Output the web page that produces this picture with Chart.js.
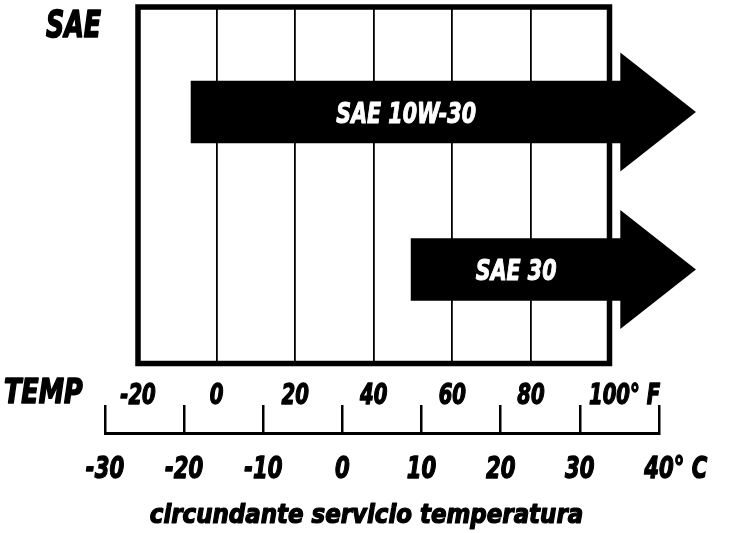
<!DOCTYPE html>
<html>
<head>
<meta charset="utf-8">
<script src="https://cdn.jsdelivr.net/npm/chart.js@4"></script>
<style>
  body { margin: 0; background: #fff; }
  #wrap { position: relative; width: 733px; height: 533px; }
  canvas { position: absolute; left: 0; top: 0; }
</style>
</head>
<body>
<div id="wrap">
  <canvas id="grades" width="733" height="533"></canvas>
  <canvas id="scaleC" width="733" height="533"></canvas>
</div>
<script>
// oil grades and the ambient range (°F) each one covers
const gradeNames = ['SAE 10W-30', 'SAE 30'];
const gradeFromF = [-6.5, 49.5];
const gradeShaftEndF = [103, 103];
const gradeTipF = [122, 122];

const fahrenheitTicks = [-20, 0, 20, 40, 60, 80, 100];
const celsiusTicks = [-30, -20, -10, 0, 10, 20, 30, 40];

const FAMILY = "'DejaVu Sans Condensed', 'DejaVu Sans', sans-serif";

// heavy oblique text, squeezed sideways to look like a condensed black face
function squash(ctx, text, x, y, o) {
  ctx.save();
  ctx.font = 'italic bold ' + o.size + 'px ' + FAMILY;
  ctx.fillStyle = o.color || '#000';
  ctx.textAlign = 'left';
  ctx.textBaseline = 'alphabetic';
  const lead = o.lead !== undefined ? o.lead : text;
  const w = ctx.measureText(lead).width * o.sx;
  const left = o.align === 'center' ? x - w / 2 : x;
  ctx.translate(left, y);
  ctx.scale(o.sx, 1);
  ctx.fillText(text, 0, 0);
  if (o.stroke) {
    ctx.lineWidth = o.stroke;
    ctx.lineJoin = 'round';
    ctx.strokeStyle = ctx.fillStyle;
    ctx.strokeText(text, 0, 0);
  }
  ctx.restore();
}

// thick box around the plot area, under the arrows
const frame = {
  id: 'frame',
  beforeDatasetsDraw(chart) {
    const { ctx, chartArea: a } = chart;
    ctx.save();
    ctx.lineWidth = 5.5;
    ctx.strokeStyle = '#000';
    ctx.strokeRect(a.left, a.top, a.right - a.left, a.bottom - a.top);
    ctx.restore();
  }
};

// triangle heads on the bars + grade name inside each shaft
const arrowHeads = {
  id: 'arrowHeads',
  afterDatasetsDraw(chart) {
    const { ctx } = chart;
    const xs = chart.scales.x;
    const half = 59.5;
    chart.getDatasetMeta(0).data.forEach((bar, i) => {
      const tip = xs.getPixelForValue(gradeTipF[i]);
      ctx.save();
      ctx.fillStyle = '#000';
      ctx.beginPath();
      ctx.moveTo(bar.x - 1, bar.y - half);
      ctx.lineTo(tip, bar.y);
      ctx.lineTo(bar.x - 1, bar.y + half);
      ctx.closePath();
      ctx.fill();
      ctx.restore();
      squash(ctx, gradeNames[i], (bar.x + bar.base) / 2, bar.y + 11,
        { size: 29, sx: 0.79, align: 'center', color: '#fff', stroke: 1 });
    });
  }
};

// tick labels under an x axis, the last one carrying the unit
const tickText = (id, values, unit, baselineGap, size, sx) => ({
  id: id,
  afterDraw(chart) {
    const xs = chart.scales.x;
    const y = chart.chartArea.bottom + baselineGap;
    values.forEach((v, i) => {
      const num = String(v);
      const text = i === values.length - 1 ? num + unit : num;
      squash(chart.ctx, text, xs.getPixelForValue(v), y,
        { size: size, sx: sx, align: 'center', lead: num, stroke: 1.3 });
    });
  }
});

// the "SAE" and "TEMP" headings
const headings = {
  id: 'headings',
  afterDraw(chart) {
    squash(chart.ctx, 'SAE', 46, 37, { size: 37, sx: 0.76, stroke: 1.6 });
    squash(chart.ctx, 'TEMP', 4, 403, { size: 34, sx: 0.83, stroke: 1.6 });
  }
};

const caption = {
  id: 'caption',
  afterDraw(chart) {
    squash(chart.ctx, 'circundante servicio temperatura', chart.width / 2, 523,
      { size: 26, sx: 0.98, align: 'center', stroke: 1.2 });
  }
};

new Chart(document.getElementById('grades'), {
  type: 'bar',
  data: {
    datasets: [{
      data: gradeNames.map((n, i) => ({ x: [gradeFromF[i], gradeShaftEndF[i]], y: i })),
      backgroundColor: '#000',
      borderWidth: 0,
      barThickness: 62,
      clip: false
    }]
  },
  options: {
    indexAxis: 'y',
    responsive: false,
    animation: false,
    layout: { padding: { left: 138, right: 123.5, top: 7, bottom: 0 } },
    scales: {
      x: {
        type: 'linear',
        min: -20,
        max: 100,
        afterBuildTicks: s => { s.ticks = fahrenheitTicks.map(v => ({ value: v })); },
        afterFit: s => { s.height = 169.5; },
        grid: { color: '#000', lineWidth: 1.8, drawTicks: false },
        border: { display: false },
        ticks: { display: false }
      },
      y: {
        type: 'linear',
        reverse: true,
        offset: false,
        min: -0.667,
        max: 1.597,
        display: false
      }
    },
    plugins: {
      legend: { display: false },
      tooltip: { enabled: false }
    }
  },
  plugins: [frame, arrowHeads, tickText('fTicks', fahrenheitTicks, '° F', 40, 28, 0.78), headings]
});

new Chart(document.getElementById('scaleC'), {
  type: 'scatter',
  data: { datasets: [{ data: [] }] },
  options: {
    responsive: false,
    animation: false,
    layout: { padding: { left: 105, right: 74, top: 405, bottom: 0 } },
    scales: {
      x: {
        type: 'linear',
        min: -30,
        max: 40,
        afterBuildTicks: s => { s.ticks = celsiusTicks.map(v => ({ value: v })); },
        afterFit: s => { s.height = 100; },
        grid: { color: '#000', lineWidth: 2.5, drawTicks: false },
        border: { display: true, color: '#000', width: 3 },
        ticks: { display: false }
      },
      y: { display: false, min: 0, max: 1 }
    },
    plugins: {
      legend: { display: false },
      tooltip: { enabled: false }
    }
  },
  plugins: [tickText('cTicks', celsiusTicks, '° C', 45, 31, 0.76), caption]
});
</script>
</body>
</html>
